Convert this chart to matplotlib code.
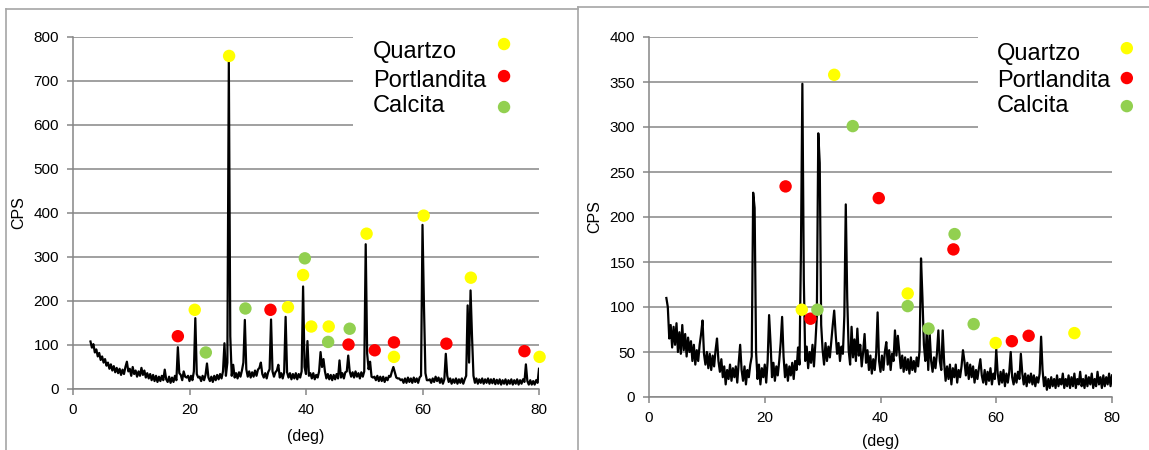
import numpy as np
import matplotlib
matplotlib.use("Agg")
import matplotlib.pyplot as plt
from matplotlib.lines import Line2D
from matplotlib.patches import Rectangle

plt.rcParams['font.family'] = ['Liberation Sans', 'DejaVu Sans']

# 2-theta scan (deg), step 0.25 from 3 to 80
scan_start, scan_step = 3.0, 0.25

# muestra 1 (CPS)
cps_left = [
    108, 94, 102, 83, 90, 74, 82, 66, 74, 60, 68, 53, 60, 46, 56, 42, 52, 38, 48, 36,
    46, 32, 44, 34, 50, 62, 40, 46, 30, 50, 34, 42, 28, 40, 30, 48, 32, 42, 26, 36,
    24, 34, 20, 32, 18, 30, 16, 28, 18, 30, 20, 44, 22, 16, 28, 14, 26, 16, 30, 20,
    95, 36, 32, 20, 40, 28, 26, 30, 18, 30, 20, 40, 161, 34, 26, 28, 18, 30, 20, 32,
    58, 26, 18, 28, 16, 30, 20, 32, 22, 34, 24, 40, 104, 30, 60, 743, 120, 30, 55, 26,
    36, 24, 38, 28, 42, 60, 157, 45, 28, 40, 26, 38, 28, 42, 30, 44, 48, 60, 34, 26,
    36, 24, 38, 45, 158, 40, 28, 38, 42, 55, 26, 36, 24, 38, 164, 38, 26, 36, 22, 34,
    24, 36, 22, 34, 26, 40, 233, 50, 34, 109, 30, 36, 24, 36, 22, 32, 26, 40, 84, 50,
    68, 40, 24, 34, 22, 32, 20, 32, 22, 34, 24, 65, 26, 36, 24, 38, 40, 76, 40, 28,
    38, 26, 40, 28, 36, 24, 38, 28, 40, 329, 80, 45, 62, 28, 26, 28, 20, 30, 18, 28,
    18, 28, 16, 26, 20, 30, 28, 40, 50, 38, 26, 24, 24, 20, 22, 14, 24, 14, 26, 16,
    24, 14, 26, 16, 24, 14, 26, 30, 373, 190, 36, 20, 20, 22, 14, 24, 16, 28, 18, 26,
    14, 24, 12, 22, 80, 30, 16, 24, 12, 22, 14, 24, 12, 22, 14, 24, 12, 22, 30, 190,
    60, 224, 120, 30, 14, 24, 12, 22, 14, 24, 12, 22, 14, 24, 12, 22, 13, 23, 11, 21,
    12, 22, 10, 20, 12, 22, 10, 20, 12, 22, 10, 20, 12, 22, 10, 20, 12, 22, 16, 56,
    18, 10, 20, 10, 18, 10, 20, 14, 46,
]

# muestra 2 (CPS)
cps_right = [
    110, 100, 65, 80, 55, 78, 58, 82, 50, 72, 48, 80, 52, 70, 45, 66, 50, 62, 40, 58,
    36, 52, 40, 58, 70, 85, 48, 36, 50, 32, 48, 30, 46, 34, 52, 65, 40, 28, 42, 22,
    34, 14, 30, 20, 36, 18, 32, 22, 34, 16, 38, 58, 30, 18, 34, 14, 30, 22, 36, 45,
    227, 210, 50, 20, 36, 14, 32, 22, 36, 16, 40, 91, 60, 22, 38, 18, 34, 24, 40, 60,
    89, 45, 22, 36, 18, 34, 24, 38, 20, 40, 30, 55, 36, 160, 348, 130, 40, 56, 32, 50,
    38, 58, 34, 60, 90, 293, 260, 80, 52, 36, 60, 40, 56, 44, 62, 80, 96, 70, 48, 60,
    40, 56, 48, 90, 214, 110, 52, 36, 78, 44, 64, 40, 76, 46, 58, 34, 50, 70, 38, 52,
    30, 46, 26, 42, 30, 48, 94, 40, 28, 46, 30, 50, 61, 36, 52, 30, 48, 40, 74, 46,
    68, 50, 32, 46, 28, 44, 30, 42, 26, 44, 30, 40, 28, 44, 34, 52, 154, 110, 58, 40,
    74, 30, 70, 40, 28, 44, 32, 48, 74, 40, 30, 74, 38, 18, 34, 20, 36, 14, 32, 22,
    36, 16, 30, 22, 34, 52, 40, 24, 38, 20, 36, 22, 34, 16, 30, 20, 32, 42, 24, 16,
    30, 14, 28, 18, 32, 14, 26, 20, 53, 26, 14, 28, 16, 30, 12, 26, 16, 28, 50, 22,
    14, 26, 16, 28, 20, 48, 26, 14, 26, 12, 24, 16, 26, 14, 24, 12, 22, 16, 26, 67,
    30, 12, 22, 8, 20, 10, 22, 12, 20, 10, 24, 12, 20, 14, 26, 10, 20, 12, 24, 10,
    22, 12, 26, 10, 20, 14, 28, 12, 20, 10, 24, 12, 22, 14, 26, 10, 20, 12, 28, 14,
    22, 10, 24, 12, 22, 14, 26, 12, 24,
]

# marcadores de fases, muestra 1
quartzo_left_x = [26.8, 20.9, 36.9, 39.5, 40.9, 43.9, 50.4, 55.1, 60.2, 68.3, 80.1]
quartzo_left_y = [757, 180, 186, 259, 142, 142, 353, 73, 394, 253, 73]
portl_left_x = [18.0, 33.9, 47.3, 51.8, 55.1, 64.1, 77.5]
portl_left_y = [120, 180, 101, 88, 106, 103, 86]
calcita_left_x = [22.8, 29.6, 39.8, 43.8, 47.5]
calcita_left_y = [83, 183, 297, 107, 137]

# marcadores de fases, muestra 2
quartzo_right_x = [32.0, 26.4, 44.7, 59.9, 73.5]
quartzo_right_y = [358, 97, 115, 60, 71]
portl_right_x = [23.6, 39.7, 27.9, 52.6, 62.7, 65.6]
portl_right_y = [234, 221, 87, 164, 62, 68]
calcita_right_x = [35.2, 29.1, 44.7, 48.3, 52.8, 56.1]
calcita_right_y = [301, 97, 101, 76, 181, 81]

phase_names = ['Quartzo', 'Portlandita', 'Calcita']
phase_colors = ['#FFFF00', '#FF0000', '#92D050']

W, H = 1149, 450
fig = plt.figure(figsize=(W / 100, H / 100), dpi=100)
fig.patch.set_facecolor('white')

grey = '#868686'


def px(x0, y0, w, h):
    return [x0 / W, 1 - (y0 + h) / H, w / W, h / H]


def setup(ax, ymax, ystep, xpad):
    ax.set_xlim(0, 80)
    ax.set_ylim(0, ymax)
    ax.set_xticks(np.arange(0, 81, 20))
    ax.set_yticks(np.arange(0, ymax + 1, ystep))
    for s in ['top', 'right']:
        ax.spines[s].set_visible(False)
    for s in ['left', 'bottom']:
        ax.spines[s].set_color(grey)
        ax.spines[s].set_linewidth(1.1)
    ax.tick_params(colors=grey, labelcolor='black', labelsize=11,
                   length=4, width=1.1, pad=6)
    ax.set_axisbelow(True)
    ax.yaxis.grid(True, color=grey, linewidth=1.1)
    ax.set_xlabel('(deg)', fontsize=11.5, labelpad=xpad)
    ax.set_ylabel('CPS', fontsize=11.5, labelpad=5)


def draw(ax, cps, phases, leg_x, text_x, text_y, mark_y, cover):
    ang = scan_start + scan_step * np.arange(len(cps))
    ax.plot(ang, cps, color='black', linewidth=1.6, zorder=2)
    for (xs, ys), c in zip(phases, phase_colors):
        ax.scatter(xs, ys, s=80, color=c, edgecolors='none', zorder=3,
                   clip_on=False)
    # legend box (white, hides the upper gridlines)
    ax.add_patch(Rectangle((cover, 0.69), 1.2, 0.35, transform=ax.transAxes,
                           facecolor='white', edgecolor='none', zorder=1,
                           clip_on=False))
    for name, c, ty, my in zip(phase_names, phase_colors, text_y, mark_y):
        ax.text(text_x, ty, name, transform=ax.transAxes, fontsize=17,
                ha='left', va='baseline', zorder=4)
        ax.scatter([leg_x], [my], s=80, color=c, edgecolors='none',
                   transform=ax.transAxes, clip_on=False, zorder=4)


ax1 = fig.add_axes(px(73, 37, 466, 352))
setup(ax1, 800, 100, 8.5)
draw(ax1, cps_left,
     [(quartzo_left_x, quartzo_left_y), (portl_left_x, portl_left_y),
      (calcita_left_x, calcita_left_y)],
     0.925, 0.644, [0.940, 0.858, 0.787], [0.980, 0.889, 0.801], 0.601)

ax2 = fig.add_axes(px(649, 37, 463, 360))
setup(ax2, 400, 50, 6.5)
draw(ax2, cps_right,
     [(quartzo_right_x, quartzo_right_y), (portl_right_x, portl_right_y),
      (calcita_right_x, calcita_right_y)],
     1.032, 0.752, [0.936, 0.861, 0.792], [0.969, 0.886, 0.808], 0.7106)

# chart area borders
bc = '#a6a6a6'
for xs, ys in [([6, 6], [9, 450]), ([6, 578], [9, 9]),
               ([578, 578], [7, 450]), ([578, 1149], [7, 7])]:
    fig.add_artist(Line2D([x / W for x in xs], [1 - y / H for y in ys],
                          color=bc, linewidth=1.2))

fig.savefig('out.png', dpi=100, facecolor='white')
